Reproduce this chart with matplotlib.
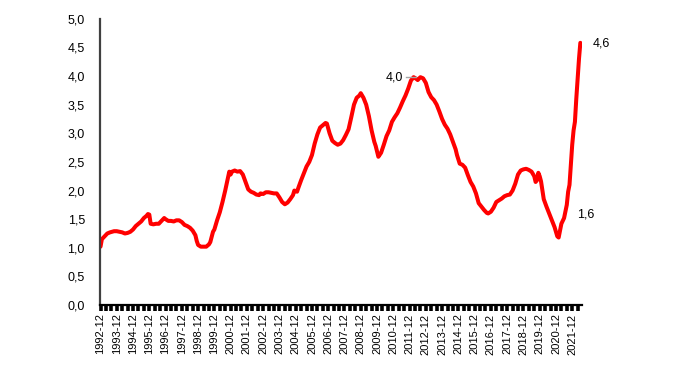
import matplotlib
matplotlib.use("Agg")
import matplotlib.pyplot as plt
from matplotlib.ticker import FixedLocator, FuncFormatter

plt.rcParams['font.family'] = ['Liberation Sans', 'DejaVu Sans']

# months since 1992-12 and values
months = [0, 1, 3, 5, 7, 10, 12, 14, 16, 18, 20, 22, 24, 26, 28, 30, 32, 34, 35, 36, 37, 39, 41, 43,
          45, 47, 48, 50, 52, 54, 56, 58, 60, 62, 64, 66, 68, 70, 71, 72, 74, 76, 78, 80, 81, 83, 84,
          86, 88, 90, 92, 94, 95, 96, 97, 99, 101, 103, 105, 107, 109, 111, 113, 115, 117, 118, 120,
          122, 124, 126, 128, 130, 132, 134, 136, 138, 140, 142, 143, 145, 146, 148, 150, 152, 154,
          156, 158, 160, 162, 164, 166, 167, 169, 171, 173, 175, 177, 179, 181, 183, 185, 187, 189,
          191, 192, 194, 196, 198, 200, 202, 203, 205, 207, 209, 211, 213, 215, 217, 219, 221, 223,
          225, 227, 229, 231, 233, 234, 236, 238, 240, 242, 244, 246, 248, 250, 252, 254, 256, 258,
          260, 262, 263, 265, 267, 269, 271, 273, 275, 277, 279, 281, 283, 285, 286, 288, 290, 292,
          294, 296, 298, 300, 302, 304, 306, 308, 310, 312, 314, 316, 318, 320, 321, 322, 323, 324,
          325, 327, 329, 331, 333, 335, 337, 338, 339, 340, 342, 344, 345, 346, 347, 348, 349, 350,
          351, 352, 353, 354]
values = [1.02, 1.15, 1.20, 1.25, 1.27, 1.29, 1.29, 1.28, 1.27, 1.25, 1.26, 1.28, 1.32, 1.38, 1.42,
          1.46, 1.52, 1.56, 1.59, 1.58, 1.42, 1.41, 1.42, 1.42, 1.47, 1.52, 1.50, 1.47, 1.47, 1.46,
          1.48, 1.48, 1.45, 1.40, 1.38, 1.35, 1.30, 1.22, 1.12, 1.05, 1.02, 1.02, 1.02, 1.06, 1.10,
          1.28, 1.32, 1.48, 1.62, 1.80, 2.00, 2.22, 2.33, 2.28, 2.33, 2.35, 2.33, 2.34, 2.28, 2.15,
          2.02, 1.98, 1.96, 1.93, 1.92, 1.95, 1.94, 1.97, 1.97, 1.96, 1.95, 1.95, 1.88, 1.80, 1.76,
          1.79, 1.85, 1.92, 2.00, 1.98, 2.05, 2.18, 2.30, 2.42, 2.50, 2.62, 2.82, 2.98, 3.10, 3.14,
          3.18, 3.17, 3.00, 2.87, 2.83, 2.80, 2.82, 2.88, 2.97, 3.07, 3.28, 3.50, 3.62, 3.66, 3.70,
          3.62, 3.50, 3.30, 3.05, 2.85, 2.78, 2.59, 2.66, 2.80, 2.95, 3.05, 3.20, 3.28, 3.35, 3.45,
          3.56, 3.66, 3.78, 3.92, 3.98, 3.95, 3.93, 3.98, 3.96, 3.88, 3.72, 3.63, 3.58, 3.50, 3.38,
          3.25, 3.15, 3.08, 2.98, 2.85, 2.72, 2.62, 2.47, 2.45, 2.40, 2.27, 2.15, 2.07, 1.95, 1.78,
          1.72, 1.66, 1.61, 1.60, 1.63, 1.70, 1.80, 1.83, 1.86, 1.90, 1.92, 1.93, 2.00, 2.12, 2.28,
          2.35, 2.37, 2.38, 2.36, 2.33, 2.25, 2.15, 2.18, 2.31, 2.25, 2.16, 1.85, 1.72, 1.60, 1.48,
          1.36, 1.20, 1.18, 1.30, 1.42, 1.52, 1.75, 1.98, 2.10, 2.45, 2.80, 3.05, 3.20, 3.60, 3.95,
          4.30, 4.58]

tick_labels = [f"{y}-12" for y in range(1992, 2022)]
tick_months = [12 * i for i in range(len(tick_labels))]
yticks = [0.0, 0.5, 1.0, 1.5, 2.0, 2.5, 3.0, 3.5, 4.0, 4.5, 5.0]

fig = plt.figure(figsize=(7.0, 3.68), dpi=100)
ax = fig.add_axes([0.143, 0.171, 0.688, 0.778])

ax.plot(months, values, color='#FF0000', lw=2.9, solid_joinstyle='round', solid_capstyle='round')

ax.set_ylim(0, 5)
ax.set_xlim(-0.3, 355)
ax.set_yticks(yticks)
ax.yaxis.set_major_formatter(FuncFormatter(lambda v, p: f"{v:.1f}".replace('.', ',')))
ax.tick_params(axis='y', length=0, pad=11, labelsize=9)

ax.set_xticks(tick_months)
ax.set_xticklabels(tick_labels, rotation=90, fontsize=8)
ax.xaxis.set_minor_locator(FixedLocator(list(range(0, 356, 4))))
ax.tick_params(axis='x', which='major', length=4, width=2.6, direction='out', pad=2, color='black')
ax.tick_params(axis='x', which='minor', length=4, width=2.6, direction='out', color='black')

for s in ['top', 'right']:
    ax.spines[s].set_visible(False)
ax.spines['left'].set_color('#404040')
ax.spines['left'].set_linewidth(1.6)
ax.spines['bottom'].set_color('black')
ax.spines['bottom'].set_linewidth(1.6)

# annotations
ax.text(217, 3.98, "4,0", fontsize=9, ha='center', va='center')
ax.plot([225.5, 233.0], [3.99, 3.99], color='#A6A6A6', lw=1.0, zorder=3)
ax.text(363, 4.56, "4,6", fontsize=9, ha='left', va='center', clip_on=False)
ax.text(351.6, 1.59, "1,6", fontsize=9, ha='left', va='center', clip_on=False)

fig.savefig("out.png", dpi=100)
